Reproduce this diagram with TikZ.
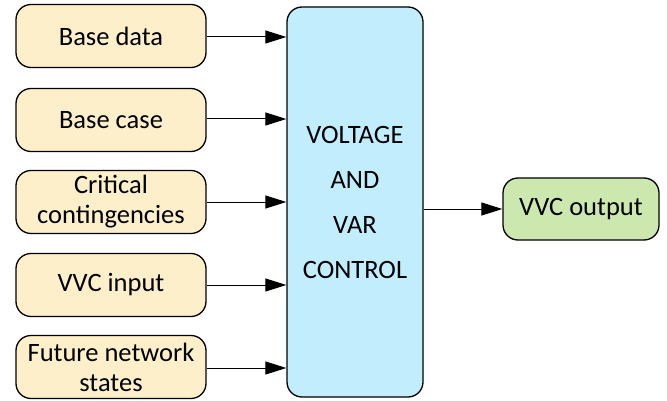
\documentclass[tikz,border=0pt]{standalone}
\usepackage{fontspec}
\setmainfont{Carlito}
\usetikzlibrary{arrows.meta}
\definecolor{inputfill}{HTML}{FDEFC9}
\definecolor{ctrlfill}{HTML}{C1EDFD}
\definecolor{outfill}{HTML}{CDE8AF}
\tikzset{
  inbox/.style={draw=black, line width=1.3pt, fill=inputfill, rounded corners=15pt,
    minimum width=190pt, minimum height=63pt, align=center, inner sep=0pt,
    font=\fontsize{26.5}{30}\selectfont},
  ctrlbox/.style={draw=black, line width=1.3pt, fill=ctrlfill, rounded corners=15pt,
    minimum width=136pt, minimum height=390pt, align=center, inner sep=0pt,
    font=\fontsize{26.5}{45}\selectfont},
  outbox/.style={draw=black, line width=1.3pt, fill=outfill, rounded corners=15pt,
    minimum width=156pt, minimum height=62pt, align=center, inner sep=0pt,
    font=\fontsize{26.5}{30}\selectfont},
  conn/.style={line width=1pt, -{Triangle[length=21pt,width=13pt]}}
}
\begin{document}
\begin{tikzpicture}[x=1pt,y=-1pt]
\useasboundingbox (0,0) rectangle (667,401);
\node[inbox] (b1) at (111,36) {Base data};
\node[inbox] (b2) at (111,120) {Base case};
\node[inbox] (b3) at (111,202) {Critical\\contingencies};
\node[inbox] (b4) at (111,285) {VVC input};
\node[inbox] (b5) at (111,367) {Future network\\states};
\node[ctrlbox] (c) at (355,202) {VOLTAGE\\AND\\VAR\\CONTROL};
\node[outbox] (o) at (581,209) {VVC output};
\foreach \i/\y in {1/37,2/119,3/202,4/285,5/368}{
  \draw[conn] (b\i.east |- 0,\y) -- (c.west |- 0,\y);
}
\draw[conn] (c.east |- o.west) -- (o.west);
\end{tikzpicture}
\end{document}
